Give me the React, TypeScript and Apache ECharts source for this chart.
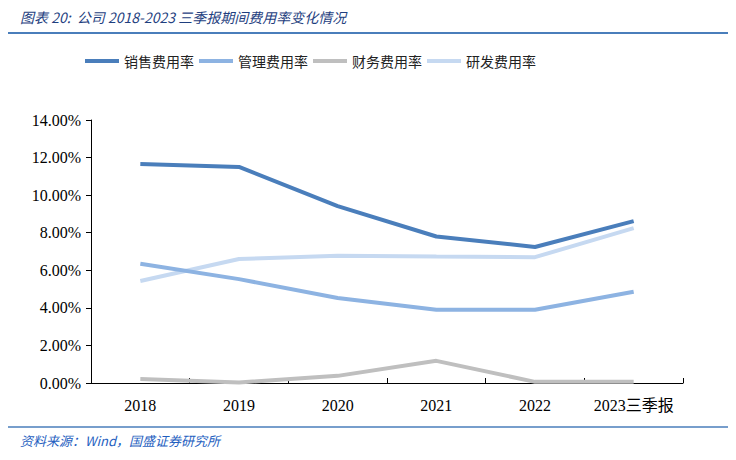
import React, { useEffect, useRef } from "react";
import * as echarts from "echarts";

const categories = ["2018", "2019", "2020", "2021", "2022", "2023三季报"];
const salesRate = [11.66, 11.5, 9.42, 7.8, 7.24, 8.62];
const adminRate = [6.35, 5.53, 4.52, 3.9, 3.9, 4.86];
const financeRate = [0.21, 0.03, 0.38, 1.18, 0.06, 0.06];
const rdRate = [5.43, 6.6, 6.77, 6.73, 6.7, 8.24];
const seriesNames = ["销售费用率", "管理费用率", "财务费用率", "研发费用率"];
const colors = ["#4a7ebb", "#8db3e2", "#bfbfbf", "#c6d9f1"];

export default function App() {
  const ref = useRef<HTMLDivElement>(null);
  useEffect(() => {
    const chart = echarts.init(ref.current!, null, { renderer: "svg" });
    const data = [salesRate, adminRate, financeRate, rdRate];
    chart.setOption({
      animation: false,
      backgroundColor: "#ffffff",
      graphic: [
        {
          type: "text",
          left: 20,
          top: 10,
          style: {
            text: "图表 20:  公司 2018-2023 三季报期间费用率变化情况",
            font: "italic 14px 'Noto Sans CJK SC', sans-serif",
            fill: "#1f3f7f",
          },
        },
        {
          type: "line",
          shape: { x1: 8, y1: 33, x2: 728, y2: 33 },
          style: { stroke: "#4a7ebb", lineWidth: 2 },
        },
        {
          type: "line",
          shape: { x1: 8, y1: 427, x2: 728, y2: 427 },
          style: { stroke: "#4a7ebb", lineWidth: 1.5 },
        },
        {
          type: "text",
          left: 20,
          top: 434,
          style: {
            text: "资料来源：Wind，国盛证券研究所",
            font: "italic 13px 'Noto Sans CJK SC', sans-serif",
            fill: "#1f5fbf",
          },
        },
      ],
      legend: {
        left: 85,
        top: 54,
        padding: 0,
        itemWidth: 34,
        itemHeight: 4,
        itemGap: 5,
        icon: "rect",
        textStyle: {
          fontFamily: "'Noto Sans CJK SC', sans-serif",
          fontSize: 14,
          color: "#222",
        },
        data: seriesNames,
      },
      grid: { left: 91, right: 53, top: 120, bottom: 77 },
      xAxis: {
        type: "category",
        data: categories,
        boundaryGap: true,
        axisLine: { lineStyle: { color: "#000", width: 1 } },
        axisTick: { show: true, inside: true, length: 5, lineStyle: { color: "#000" } },
        axisLabel: {
          interval: 0,
          margin: 14,
          fontFamily: "'Liberation Serif', 'Noto Sans CJK SC', serif",
          fontSize: 16,
          color: "#000",
        },
      },
      yAxis: {
        type: "value",
        min: 0,
        max: 14,
        interval: 2,
        splitLine: { show: false },
        axisLine: { show: true, lineStyle: { color: "#000", width: 1 } },
        axisTick: { show: true, inside: false, length: 5, lineStyle: { color: "#000" } },
        axisLabel: {
          margin: 10,
          formatter: (v: number) => v.toFixed(2) + "%",
          fontFamily: "'Liberation Serif', serif",
          fontSize: 16,
          color: "#000",
        },
      },
      series: seriesNames.map((name, i) => ({
        name,
        type: "line",
        data: data[i],
        symbol: "none",
        lineStyle: { color: colors[i], width: 4 },
        itemStyle: { color: colors[i] },
        z: 4 - i,
      })),
    });
    return () => chart.dispose();
  }, []);
  return <div ref={ref} style={{ width: 736, height: 460, position: "absolute", left: 0, top: 0 }} />;
}
